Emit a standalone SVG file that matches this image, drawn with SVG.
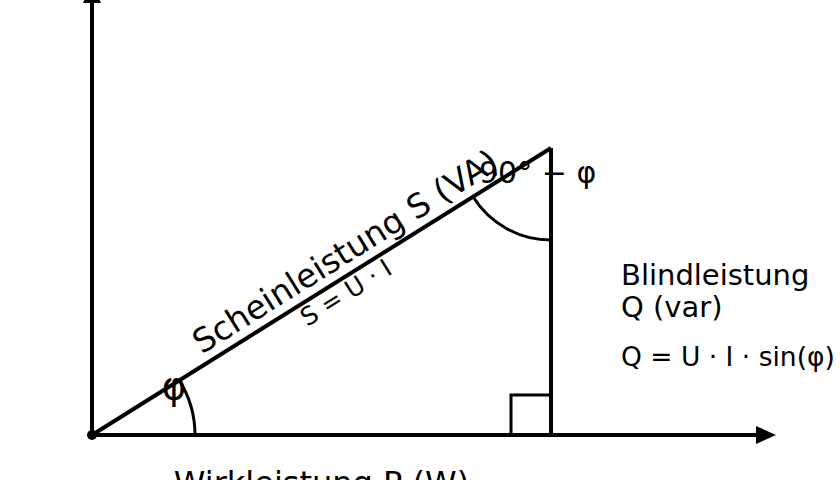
<svg xmlns="http://www.w3.org/2000/svg" width="840" height="480" viewBox="0 0 840 480">
<style>
text{font-family:"DejaVu Sans","Liberation Sans",sans-serif;fill:#000}
.ax{stroke:#000;stroke-width:4;fill:none}
.leg{stroke:#000;stroke-width:4;fill:none}
.thin{stroke:#000;stroke-width:3;fill:none}
</style>
<defs>
<marker id="arr" markerUnits="userSpaceOnUse" markerWidth="22" markerHeight="20" refX="2" refY="9" orient="auto">
<path d="M0,0 L20,9 L0,18 Z" fill="#000"/>
</marker>
</defs>
<rect width="840" height="480" fill="#fff"/>
<g id="connectors">
<line class="ax" x1="92" y1="435" x2="92" y2="1" marker-end="url(#arr)"/>
<line class="ax" x1="92" y1="435" x2="758" y2="435" marker-end="url(#arr)"/>
<line class="leg" x1="551" y1="435" x2="551" y2="148"/>
<line class="leg" stroke-width="5" x1="92" y1="435" x2="551" y2="148"/>
<path class="thin" d="M511,435 V395 H551"/>
<path class="thin" d="M195,435 A103,103 0 0 0 179.3,380.4"/>
<path class="thin" d="M473,196.8 A92,92 0 0 0 551,240"/>
<circle cx="92" cy="435" r="5" fill="#000"/>
</g>
<g id="phi">
<text x="174" y="399" font-size="37" text-anchor="middle">φ</text>
</g>
<g id="angle90">
<text x="479" y="183" font-size="30">90° − φ</text>
</g>
<g id="hyp">
<text transform="translate(351.3,261.1) rotate(-32)" font-size="33" text-anchor="middle">Scheinleistung S (VA)</text>
<text transform="translate(350.5,300) rotate(-32)" font-size="25" text-anchor="middle">S = U · I</text>
</g>
<g id="wirk">
<text x="321.5" y="494" font-size="32" text-anchor="middle">Wirkleistung P (W)</text>
</g>
<g id="blind">
<text x="621" y="285" font-size="29">Blindleistung</text>
<text x="621" y="317" font-size="29">Q (var)</text>
<text x="621" y="366" font-size="26.5">Q = U · I · sin(φ)</text>
</g>
</svg>
